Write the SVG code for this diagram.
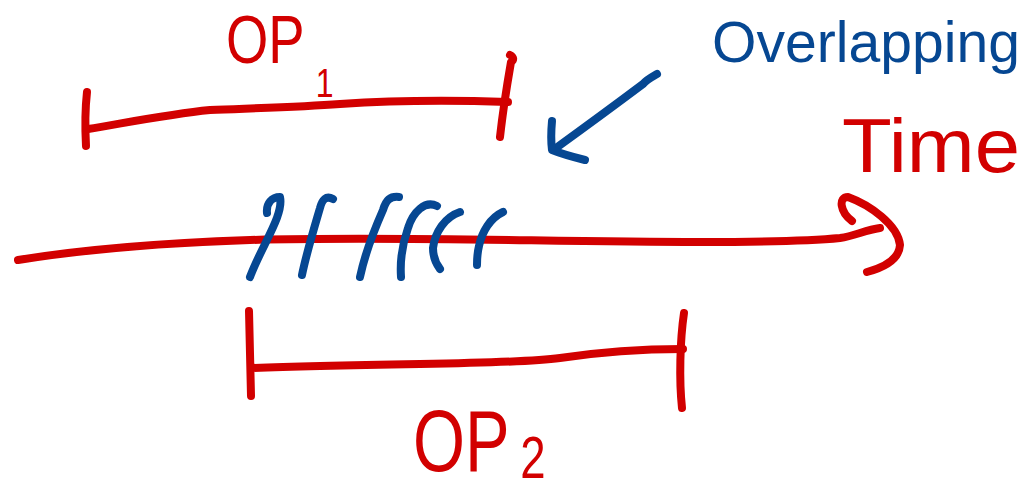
<svg xmlns="http://www.w3.org/2000/svg" width="1027" height="490" viewBox="0 0 1027 490">
  <style>
    .red { stroke: #d20000; }
    .blue { stroke: #064792; }
    .pen { fill: none; stroke-width: 8; stroke-linecap: round; stroke-linejoin: round; }
    .lbl { font-family: "Liberation Sans", Arial, sans-serif; }
    .lbl-red { fill: #d20000; }
    .lbl-blue { fill: #064792; }
  </style>
  <rect width="1027" height="490" fill="#ffffff"/>

  <!-- first operation interval -->
  <g id="op1">
    <path class="pen red" d="M87,92 C85,110 85,128 86,146"/>
    <path class="pen red" d="M88,129 C130,122 170,114 210,110 C260,108 300,107 340,104 C400,100 450,100 508,102"/>
    <path class="pen red" d="M510,55 C514,57 514,60 511,62 C507,85 503,110 500,137"/>
    <text class="lbl lbl-red" transform="translate(226,63) scale(0.8,1)" font-size="68">OP<tspan dx="14" dy="34" font-size="40">1</tspan></text>
  </g>

  <!-- time axis with arrow head -->
  <g id="time-axis">
    <path class="pen red" d="M18,260 C80,250 160,243 250,240 C400,236 550,242 700,242 C760,242 810,241 840,238 C855,236 865,230 880,228"/>
    <path class="pen red" d="M852,221 C840,212 838,197 848,197 C870,205 898,225 900,245 C899,260 882,268 867,272"/>
    <text class="lbl lbl-red" x="842" y="172" font-size="76" textLength="178" lengthAdjust="spacingAndGlyphs">Time</text>
  </g>

  <!-- hatching over the overlapping part -->
  <g id="overlap-marks">
    <path class="pen blue" d="M267,213 C266,203 272,197 280,197 C284,215 262,245 250,277"/>
    <path class="pen blue" d="M333,199 C326,195 322,200 320,208 C313,232 306,255 302,275"/>
    <path class="pen blue" d="M399,197 C390,196 386,200 383,210 C372,235 364,258 360,277"/>
    <path class="pen blue" d="M437,206 C425,200 413,212 408,228 C402,245 400,262 401,277"/>
    <path class="pen blue" d="M460,212 C445,217 435,232 433,248 C433,258 437,265 440,269"/>
    <path class="pen blue" d="M503,212 C490,218 482,232 479,246 C477,254 477,260 477,265"/>
  </g>

  <!-- label for the overlap -->
  <g id="overlap-label">
    <text class="lbl lbl-blue" x="712" y="62" font-size="58" textLength="308" lengthAdjust="spacingAndGlyphs">Overlapping</text>
  </g>

  <!-- second operation interval -->
  <g id="op2">
    <path class="pen red" d="M249,311 L251,396"/>
    <path class="pen red" d="M251,368 C300,366 360,365 420,364 C480,363 530,362 560,358 C600,352 640,349 683,349"/>
    <path class="pen red" d="M684,313 C680,340 679,380 682,408"/>
    <text class="lbl lbl-red" transform="translate(413,471) scale(0.76,1)" font-size="88">OP<tspan dx="14" dy="7" font-size="60">2</tspan></text>
  </g>

  <!-- pointer from the label to the overlap -->
  <g id="connectors">
    <path class="pen blue" d="M657,74 C650,78 646,80 643,84 C615,105 585,127 556,148"/>
    <path class="pen blue" d="M552,121 C551,132 551,142 552,150 C562,154 573,157 585,160"/>
  </g>
</svg>
